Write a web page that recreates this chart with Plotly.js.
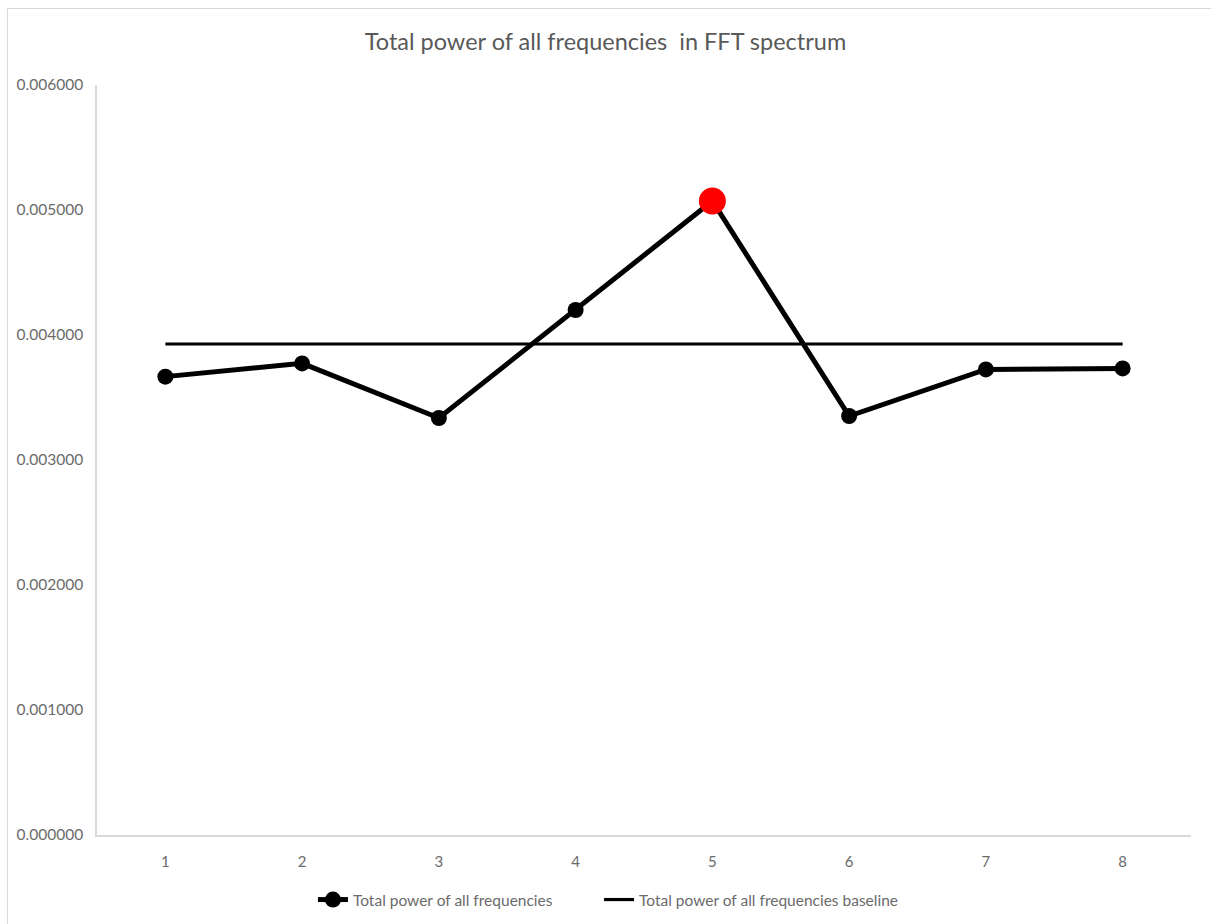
<!DOCTYPE html>
<html>
<head>
<meta charset="utf-8">
<script src="https://cdn.plot.ly/plotly-3.0.1.min.js"></script>
<style>
  html, body { margin: 0; padding: 0; background: #ffffff; }
  #wrap { position: relative; width: 1211px; height: 924px; overflow: hidden; }
  #frame { position: absolute; left: 7px; top: 8px; width: 1220px; height: 940px;
           border: 1px solid #d9d9d9; box-sizing: border-box; pointer-events: none; }
  #chart { position: absolute; left: 0; top: 0; width: 1211px; height: 924px; }
</style>
</head>
<body>
<div id="wrap">
  <div id="chart"></div>
  <div id="frame"></div>
</div>
<script>
// Measurement index along the x axis
const categories = ['1', '2', '3', '4', '5', '6', '7', '8'];
// Total power of all frequencies per measurement
const totalPower = [0.003667, 0.003773, 0.003336, 0.004200, 0.005072, 0.003352, 0.003725, 0.003733];
// Baseline level of the total power
const baseline = [0.003928, 0.003928, 0.003928, 0.003928, 0.003928, 0.003928, 0.003928, 0.003928];
// Y axis tick labels
const yTickVals = [0, 0.001, 0.002, 0.003, 0.004, 0.005, 0.006];
const yTickText = ['0.000000', '0.001000', '0.002000', '0.003000', '0.004000', '0.005000', '0.006000'];

// Highlight the peak reading in red
const peak = Math.max(...totalPower);
const markerColors = totalPower.map(v => v === peak ? '#ff0000' : '#000000');
const markerSizes = totalPower.map(v => v === peak ? 27 : 16);

const FONT = 'Lato, "Open Sans", "DejaVu Sans", sans-serif';
const TICK_COLOR = '#6b6b6b';

const traces = [
  {
    type: 'scatter',
    mode: 'lines+markers',
    name: 'Total power of all frequencies',
    x: categories,
    y: totalPower,
    line: { color: '#000000', width: 5 },
    marker: { color: markerColors, size: markerSizes, opacity: 1, line: { width: 0 } },
    legend: 'legend',
    hoverinfo: 'x+y'
  },
  {
    type: 'scatter',
    mode: 'lines',
    name: 'Total power of all frequencies baseline',
    x: categories,
    y: baseline,
    line: { color: '#000000', width: 3.2 },
    legend: 'legend2',
    hoverinfo: 'x+y'
  }
];

// Both legend entries sit on one row under the plot
const legendStyle = {
  orientation: 'h',
  xanchor: 'left',
  yref: 'container',
  y: 0.026, yanchor: 'middle',
  font: { family: FONT, size: 15.5, color: TICK_COLOR },
  itemwidth: 30,
  bgcolor: 'rgba(0,0,0,0)'
};

const layout = {
  width: 1211,
  height: 924,
  paper_bgcolor: 'rgba(0,0,0,0)',
  plot_bgcolor: 'rgba(0,0,0,0)',
  margin: { l: 97, r: 20, t: 85, b: 89 },
  font: { family: FONT, color: TICK_COLOR, size: 15 },
  title: {
    text: 'Total power of all frequencies  in FFT spectrum',
    font: { family: FONT, size: 23.5, color: '#595959' },
    x: 0.5, xanchor: 'center',
    y: 0.955, yanchor: 'middle', yref: 'container'
  },
  xaxis: {
    type: 'category',
    range: [-0.5, 7.5],
    showline: true, linecolor: '#d9d9d9', linewidth: 1.5,
    showgrid: false, zeroline: false,
    ticks: '', ticklabelstandoff: 12,
    tickfont: { family: FONT, size: 15, color: TICK_COLOR },
    fixedrange: true
  },
  yaxis: {
    range: [0, 0.006],
    tickvals: yTickVals,
    ticktext: yTickText,
    showline: true, linecolor: '#d9d9d9', linewidth: 1.5,
    showgrid: false, zeroline: false,
    ticks: '', ticklabelstandoff: 9,
    tickfont: { family: FONT, size: 15.5, color: TICK_COLOR },
    fixedrange: true
  },
  showlegend: true,
  legend: Object.assign({}, legendStyle, { x: 0.1974 }),
  legend2: Object.assign({}, legendStyle, { x: 0.4589 }),
  hovermode: 'closest'
};

Plotly.newPlot('chart', traces, layout, { displayModeBar: false });
</script>
</body>
</html>
